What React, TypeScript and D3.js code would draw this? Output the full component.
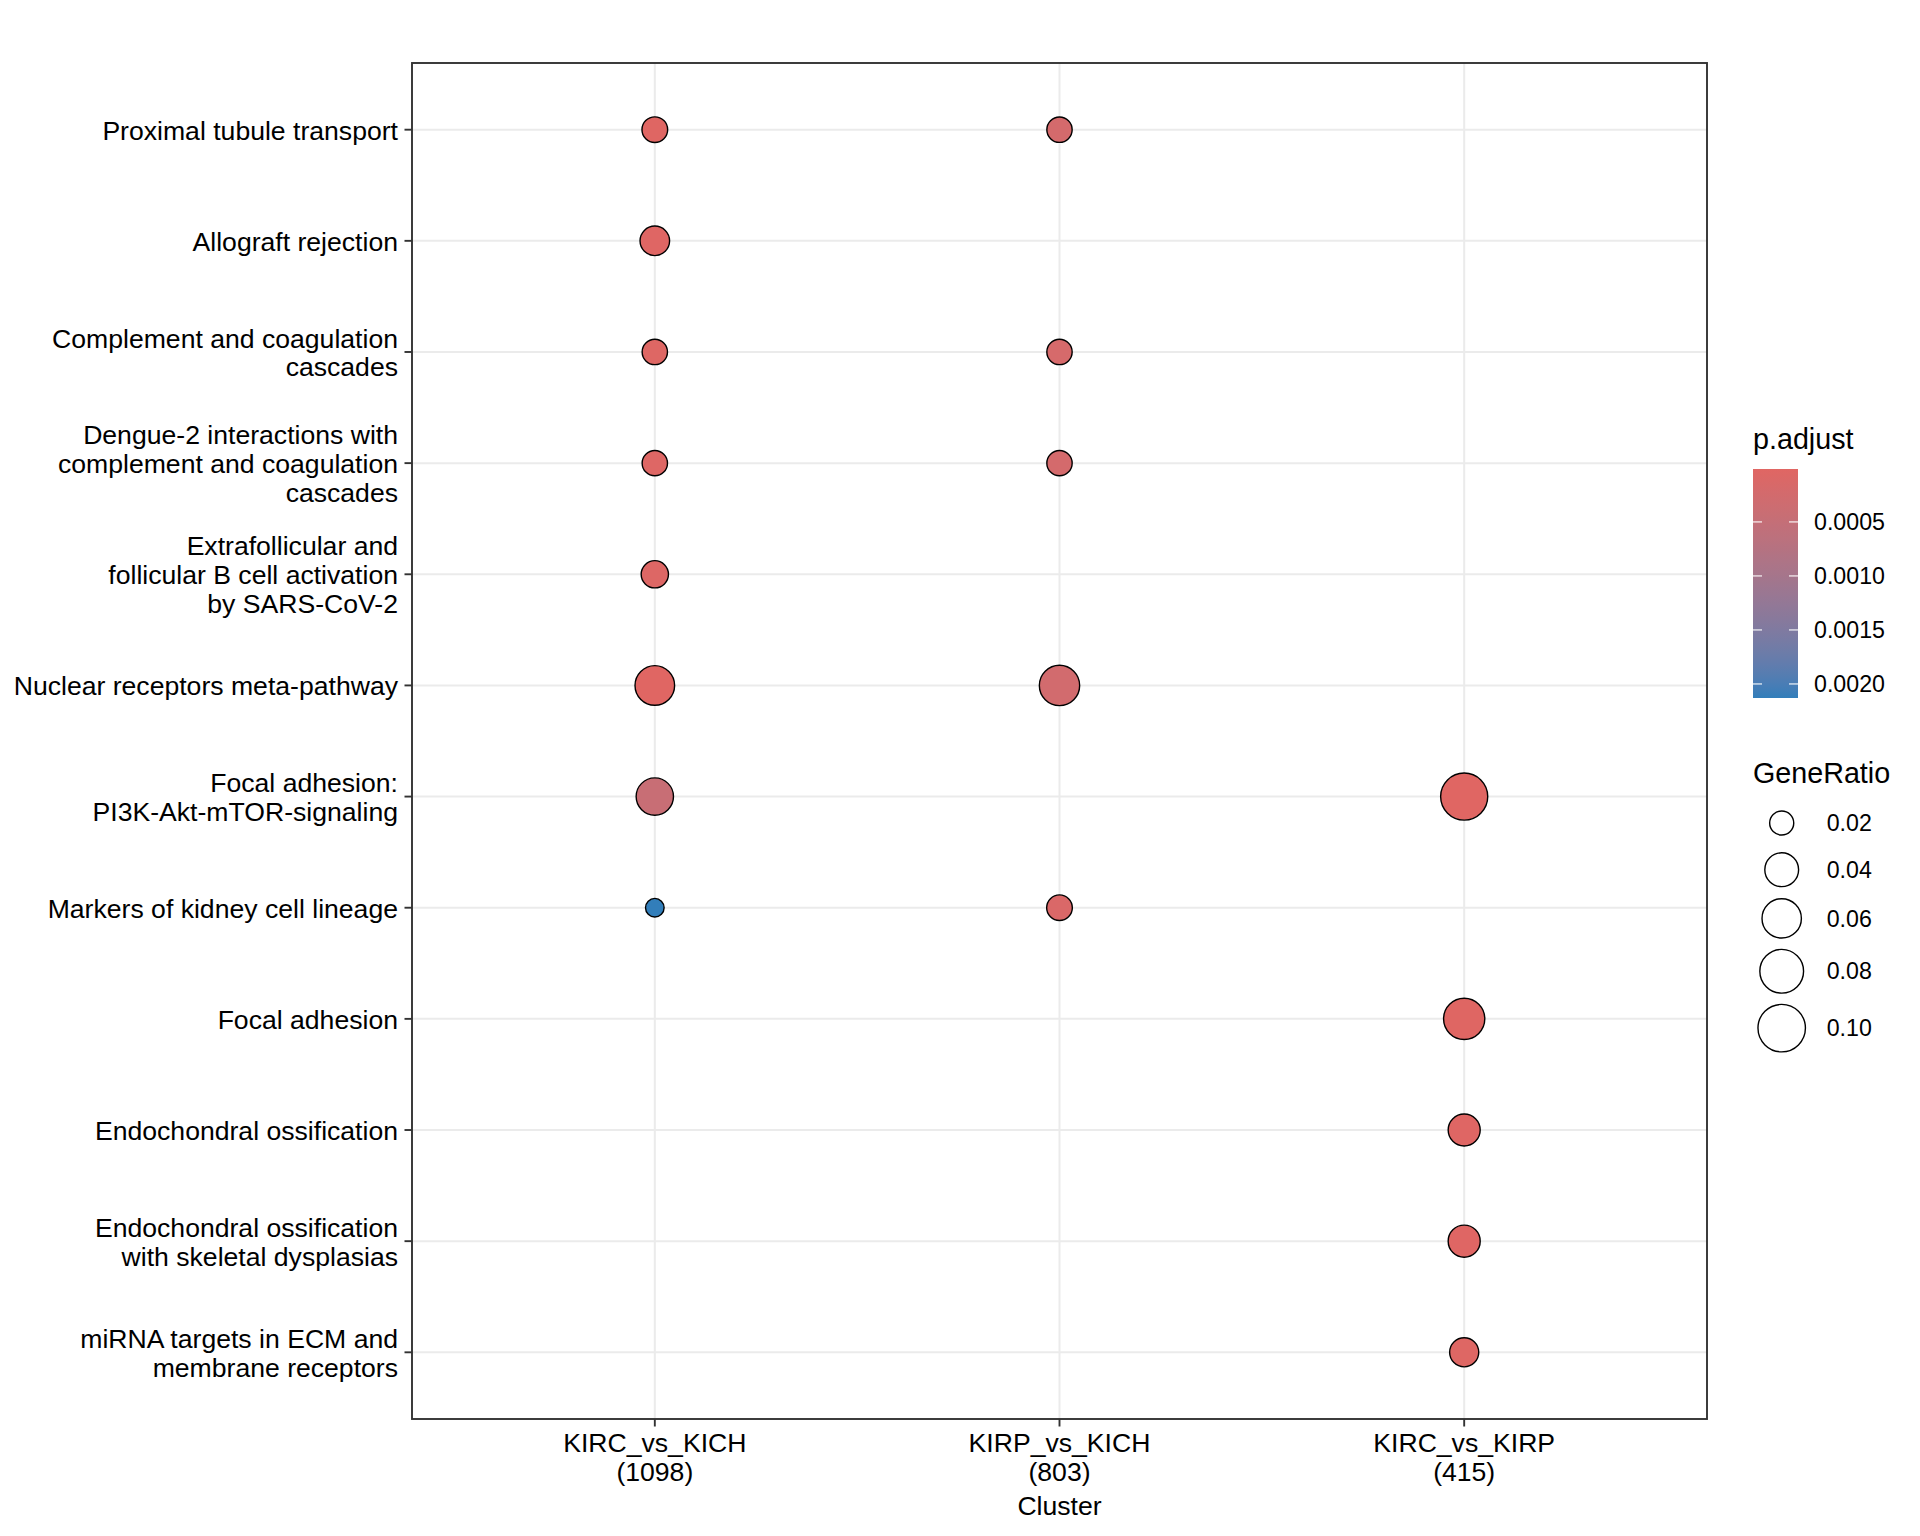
import React from "react";
import * as d3 from "d3";

// ---------- data ----------
const clusters = ["KIRC_vs_KICH", "KIRP_vs_KICH", "KIRC_vs_KIRP"];
const clusterCounts = ["(1098)", "(803)", "(415)"];

const pathways = [
  "Proximal tubule transport",
  "Allograft rejection",
  "Complement and coagulation\ncascades",
  "Dengue-2 interactions with\ncomplement and coagulation\ncascades",
  "Extrafollicular and\nfollicular B cell activation\nby SARS-CoV-2",
  "Nuclear receptors meta-pathway",
  "Focal adhesion:\nPI3K-Akt-mTOR-signaling",
  "Markers of kidney cell lineage",
  "Focal adhesion",
  "Endochondral ossification",
  "Endochondral ossification\nwith skeletal dysplasias",
  "miRNA targets in ECM and\nmembrane receptors",
];

// one entry per dot
const pointCluster = [0, 1, 0, 0, 1, 0, 1, 0, 0, 1, 0, 2, 0, 1, 2, 2, 2, 2];
const pointPathway = [0, 0, 1, 2, 2, 3, 3, 4, 5, 5, 6, 6, 7, 7, 8, 9, 10, 11];
const geneRatio = [
  0.022, 0.0215, 0.029, 0.0215, 0.0215, 0.0215, 0.0215, 0.0245, 0.061, 0.064,
  0.052, 0.098, 0.017, 0.022, 0.068, 0.035, 0.035, 0.028,
];
const pAdjust = [
  0.00002, 0.00022, 0.00003, 0.00004, 0.0002, 0.00005, 0.00022, 0.00006,
  0.00001, 0.00027, 0.00044, 0.00001, 0.00213, 0.00012, 0.00002, 0.00003,
  0.00003, 0.00004,
];

const colorTicks = [0.0005, 0.001, 0.0015, 0.002];
const sizeTicks = [0.02, 0.04, 0.06, 0.08, 0.1];

// ---------- layout ----------
const W = 1920;
const H = 1536;
const panel = { left: 412, right: 1707, top: 63, bottom: 1419 };
const FONT = "'Liberation Sans', Arial, Helvetica, sans-serif";
const axisFs = 26.6;
const lineH = 28.8;
const legTitleFs = 28.7;
const legTextFs = 23.2;

export default function App() {
  const x = d3
    .scalePoint<string>()
    .domain(clusters)
    .range([panel.left, panel.right])
    .padding(0.6);
  const y = d3
    .scalePoint<string>()
    .domain(pathways)
    .range([panel.top, panel.bottom])
    .padding(0.6);

  const [gMin, gMax] = d3.extent(geneRatio) as [number, number];
  const rMin = 9.3;
  const rMax = 23.55;
  const sizeLin = d3
    .scaleLinear()
    .domain([0, Math.sqrt(gMax - gMin)])
    .range([rMin, rMax]);
  const r = (v: number) => sizeLin(Math.sqrt(Math.max(0, v - gMin)));

  const [pMin, pMax] = d3.extent(pAdjust) as [number, number];
  const color = d3
    .scaleLinear<string>()
    .domain([pMin, pMax])
    .range(["#e06663", "#327eba"])
    .interpolate(d3.interpolateLab);

  // colorbar
  const bar = { x: 1753, y0: 469, y1: 698, w: 45 };
  const barY = d3.scaleLinear().domain([pMin, pMax]).range([bar.y0, bar.y1]);
  const gradStops = d3.range(0, 21).map((i) => i / 20);

  // size legend key centres
  const keyHeights = sizeTicks.map((v) => Math.max(46.7, 2 * r(v) + 1.3 + 10));
  const keyCenters: number[] = [];
  let acc = 823;
  keyHeights.forEach((h, i) => {
    if (i > 0) acc += (keyHeights[i - 1] + h) / 2;
    keyCenters.push(acc);
  });

  const points = pointCluster.map((c, i) => ({
    cx: x(clusters[c]) as number,
    cy: y(pathways[pointPathway[i]]) as number,
    g: geneRatio[i],
    p: pAdjust[i],
  }));

  return (
    <svg
      width={W}
      height={H}
      viewBox={`0 0 ${W} ${H}`}
      style={{ position: "absolute", left: 0, top: 0, display: "block" }}
      fontFamily={FONT}
    >
      <rect x={0} y={0} width={W} height={H} fill="#ffffff" />
      <defs>
        <linearGradient id="pgrad" x1="0" y1="0" x2="0" y2="1">
          {gradStops.map((t) => (
            <stop
              key={t}
              offset={`${t * 100}%`}
              stopColor={color(pMin + t * (pMax - pMin))}
            />
          ))}
        </linearGradient>
      </defs>

      {/* grid */}
      <g stroke="#ebebeb" strokeWidth={2}>
        {clusters.map((c) => (
          <line key={c} x1={x(c)} x2={x(c)} y1={panel.top} y2={panel.bottom} />
        ))}
        {pathways.map((p) => (
          <line key={p} x1={panel.left} x2={panel.right} y1={y(p)} y2={y(p)} />
        ))}
      </g>

      {/* points */}
      <g stroke="#000" strokeWidth={1.4}>
        {points.map((d, i) => (
          <circle key={i} cx={d.cx} cy={d.cy} r={r(d.g)} fill={color(d.p)} />
        ))}
      </g>

      {/* panel border */}
      <rect
        x={panel.left}
        y={panel.top}
        width={panel.right - panel.left}
        height={panel.bottom - panel.top}
        fill="none"
        stroke="#333333"
        strokeWidth={1.9}
      />

      {/* y axis */}
      <g>
        {pathways.map((p) => {
          const lines = p.split("\n");
          const cy = y(p) as number;
          return (
            <g key={p}>
              <line
                x1={panel.left - 7.5}
                x2={panel.left}
                y1={cy}
                y2={cy}
                stroke="#333333"
                strokeWidth={1.9}
              />
              {lines.map((ln, k) => (
                <text
                  key={k}
                  x={398}
                  y={cy + (k - (lines.length - 1) / 2) * lineH + 10}
                  textAnchor="end"
                  fontSize={axisFs}
                  fill="#000"
                >
                  {ln}
                </text>
              ))}
            </g>
          );
        })}
      </g>

      {/* x axis */}
      <g>
        {clusters.map((c, i) => (
          <g key={c}>
            <line
              x1={x(c)}
              x2={x(c)}
              y1={panel.bottom}
              y2={panel.bottom + 7.5}
              stroke="#333333"
              strokeWidth={1.9}
            />
            <text
              x={x(c)}
              y={1452}
              textAnchor="middle"
              fontSize={axisFs}
              fill="#000"
            >
              {c}
            </text>
            <text
              x={x(c)}
              y={1481}
              textAnchor="middle"
              fontSize={axisFs}
              fill="#000"
            >
              {clusterCounts[i]}
            </text>
          </g>
        ))}
        <text
          x={(panel.left + panel.right) / 2}
          y={1515}
          textAnchor="middle"
          fontSize={axisFs}
          fill="#000"
        >
          Cluster
        </text>
      </g>

      {/* colour legend */}
      <g>
        <text x={1753} y={449} fontSize={legTitleFs} fill="#000">
          p.adjust
        </text>
        <rect
          x={bar.x}
          y={bar.y0}
          width={bar.w}
          height={bar.y1 - bar.y0}
          fill="url(#pgrad)"
        />
        {colorTicks.map((t) => (
          <g key={t}>
            <line
              x1={bar.x}
              x2={bar.x + 9}
              y1={barY(t)}
              y2={barY(t)}
              stroke="#ffffff"
              strokeWidth={1.1}
            />
            <line
              x1={bar.x + bar.w - 9}
              x2={bar.x + bar.w}
              y1={barY(t)}
              y2={barY(t)}
              stroke="#ffffff"
              strokeWidth={1.1}
            />
            <text
              x={1814}
              y={barY(t) + 8.2}
              fontSize={legTextFs}
              fill="#000"
            >
              {d3.format(".4f")(t)}
            </text>
          </g>
        ))}
      </g>

      {/* size legend */}
      <g>
        <text x={1753} y={783} fontSize={legTitleFs} fill="#000">
          GeneRatio
        </text>
        {sizeTicks.map((t, i) => (
          <g key={t}>
            <circle
              cx={1781.7}
              cy={keyCenters[i]}
              r={r(t)}
              fill="none"
              stroke="#000"
              strokeWidth={1.4}
            />
            <text
              x={1826.7}
              y={keyCenters[i] + 8.2}
              fontSize={legTextFs}
              fill="#000"
            >
              {d3.format(".2f")(t)}
            </text>
          </g>
        ))}
      </g>
    </svg>
  );
}
